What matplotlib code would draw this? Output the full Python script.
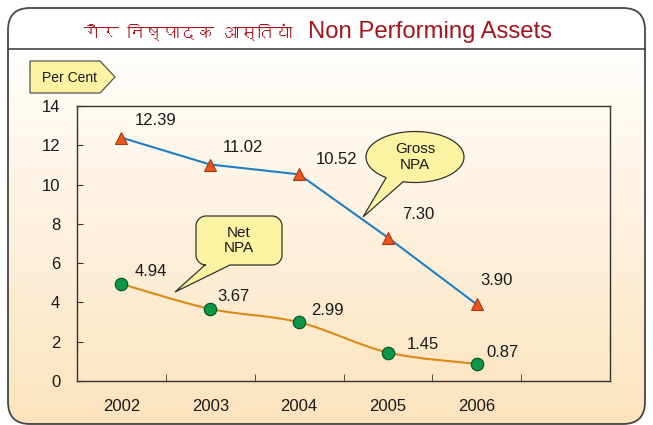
import numpy as np
import matplotlib
matplotlib.use("Agg")
import matplotlib.pyplot as plt
from matplotlib import font_manager
from matplotlib.ft2font import FT2Font
from matplotlib.patches import FancyBboxPatch, Polygon, PathPatch
from matplotlib.path import Path

# Data
YEARS = ["2002", "2003", "2004", "2005", "2006"]
GROSS_NPA = [12.39, 11.02, 10.52, 7.30, 3.90]
NET_NPA = [4.94, 3.67, 2.99, 1.45, 0.87]
Y_TICKS = [0, 2, 4, 6, 8, 10, 12, 14]
TITLE_HI = "गैर निष्पादक आस्तियां"
TITLE_EN = "Non Performing Assets"

# Styling
W, H = 653, 425
TITLE_RED = "#a3141c"
BLUE = "#1f7ec4"
ORANGE = "#d98b14"
TRI_FILL = "#e8561e"
TRI_EDGE = "#a83a12"
DOT_FILL = "#0b9648"
DOT_EDGE = "#05502a"
CALLOUT = "#fbf2a2"
FRAME = "#454545"
# label offsets in pixels (dx, dy up)
GROSS_OFF = [(34, 17), (33, 17), (37, 15), (30, 23), (20, 24)]
NET_OFF = [(29, 12), (23, 12), (28, 12), (35, 8), (26, 11)]

plt.rcParams["font.family"] = ["Liberation Sans", "DejaVu Sans"]


def find_devanagari_font():
    for f in font_manager.fontManager.ttflist:
        try:
            if 0x0928 in FT2Font(f.fname).get_charmap():
                return f.name
        except Exception:
            continue
    return None


def arc(cx, cy, r, a0, a1, n=12):
    t = np.radians(np.linspace(a0, a1, n))
    return list(zip(cx + r * np.cos(t), cy + r * np.sin(t)))


fig = plt.figure(figsize=(W / 100, H / 100), dpi=100)
fig.patch.set_facecolor("white")

# background layer in pixel coordinates
bg = fig.add_axes([0, 0, 1, 1], zorder=0)
bg.set_xlim(0, W)
bg.set_ylim(H, 0)
bg.axis("off")

outer = FancyBboxPatch((8, 8), 637, 416, boxstyle="round,pad=0,rounding_size=22",
                       facecolor="none", edgecolor=FRAME, lw=1.3, zorder=3)
bg.add_patch(outer)
grad = np.linspace(0, 1, 256).reshape(-1, 1)
cmap = matplotlib.colors.LinearSegmentedColormap.from_list("g", ["#fffefc", "#fde3bd"])
im = bg.imshow(grad, cmap=cmap, extent=[8, 645, 424, 49], aspect="auto", zorder=1)
im.set_clip_path(outer)
bg.plot([8, 645], [49, 49], color=FRAME, lw=1.2, zorder=2)

dev_font = find_devanagari_font()
hi_family = [dev_font, "DejaVu Sans"] if dev_font else ["DejaVu Sans"]
bg.text(292, 32, TITLE_HI, color=TITLE_RED, fontsize=12.5, ha="right", va="center",
        family=hi_family, zorder=4)
bg.text(308, 32, TITLE_EN, color=TITLE_RED, fontsize=17.2, ha="left", va="center", zorder=4)

# main axes
ax = fig.add_axes([77 / W, 1 - 381 / H, 533 / W, 275 / H], zorder=1)
ax.patch.set_alpha(0)
x = np.arange(len(YEARS))

ax.plot(x, GROSS_NPA, color=BLUE, lw=1.5, zorder=2)
ax.plot(x, GROSS_NPA, ls="none", marker="^", ms=9, mfc=TRI_FILL, mec=TRI_EDGE, mew=0.8, zorder=3)

# smooth net NPA line through the points (Catmull-Rom as cubic Bezier)
pts = np.column_stack([x, NET_NPA]).astype(float)
verts = [tuple(pts[0])]
codes = [Path.MOVETO]
for i in range(len(pts) - 1):
    p0 = pts[max(i - 1, 0)]
    p1, p2 = pts[i], pts[i + 1]
    p3 = pts[min(i + 2, len(pts) - 1)]
    c1 = p1 + (p2 - p0) / 6
    c2 = p2 - (p3 - p1) / 6
    verts += [tuple(c1), tuple(c2), tuple(p2)]
    codes += [Path.CURVE4] * 3
ax.add_patch(PathPatch(Path(verts, codes), facecolor="none", edgecolor=ORANGE, lw=1.5, zorder=2))
ax.plot(x, NET_NPA, ls="none", marker="o", ms=9, mfc=DOT_FILL, mec=DOT_EDGE, mew=0.8, zorder=3)

for xi, v, (dx, dy) in zip(x, GROSS_NPA, GROSS_OFF):
    ax.annotate(f"{v:.2f}", (xi, v), xytext=(dx, dy), textcoords="offset pixels",
                ha="center", va="center", fontsize=12, color="#1a1a1a")
for xi, v, (dx, dy) in zip(x, NET_NPA, NET_OFF):
    ax.annotate(f"{v:.2f}", (xi, v), xytext=(dx, dy), textcoords="offset pixels",
                ha="center", va="center", fontsize=12, color="#1a1a1a")

ax.set_xlim(-0.5, len(YEARS) + 0.5)
ax.set_ylim(0, 14)
ax.set_yticks(Y_TICKS)
ax.set_xticks(x)
ax.set_xticklabels(YEARS)
ax.set_xticks(np.arange(len(YEARS)) + 0.5, minor=True)
ax.tick_params(axis="x", which="major", length=0, pad=13, labelsize=12, labelcolor="#1a1a1a")
ax.tick_params(axis="x", which="minor", direction="in", length=5, color="#333333")
ax.tick_params(axis="y", direction="in", length=4, pad=12, labelsize=12,
               labelcolor="#1a1a1a", color="#333333")
for s in ax.spines.values():
    s.set_color("#333333")
    s.set_linewidth(1.0)

# overlay for callouts and unit tag
ov = fig.add_axes([0, 0, 1, 1], zorder=2)
ov.set_xlim(0, W)
ov.set_ylim(H, 0)
ov.axis("off")

tag = [(30, 61), (100, 61), (115, 77), (100, 93), (30, 93)]
ov.add_patch(Polygon(tag, closed=True, facecolor=CALLOUT, edgecolor="#555555", lw=0.9))
ov.text(69, 77.5, "Per Cent", fontsize=10, ha="center", va="center", color="#1a1a1a")

# Gross NPA ellipse callout
cx, cy, a, b = 415, 157, 49, 25.5
t = np.radians(np.linspace(126, 464, 120))
ell = list(zip(cx + a * np.cos(t), cy + b * np.sin(t))) + [(363, 217)]
ov.add_patch(Polygon(ell, closed=True, facecolor=CALLOUT, edgecolor="#333333", lw=0.9))
ov.text(cx, cy, "Gross\nNPA", fontsize=11, ha="center", va="center",
        linespacing=1.15, color="#1a1a1a")

# Net NPA rounded box callout
x0, y0, x1, y1, r = 196, 216, 282, 265, 10
box = (arc(x0 + r, y0 + r, r, 180, 270) + arc(x1 - r, y0 + r, r, 270, 360)
       + arc(x1 - r, y1 - r, r, 0, 90) + [(230, y1), (175, 292), (205, y1)]
       + arc(x0 + r, y1 - r, r, 90, 180))
ov.add_patch(Polygon(box, closed=True, facecolor=CALLOUT, edgecolor="#333333", lw=0.9))
ov.text((x0 + x1) / 2, (y0 + y1) / 2, "Net\nNPA", fontsize=11, ha="center", va="center",
        linespacing=1.15, color="#1a1a1a")

fig.savefig("out.png", dpi=100)
